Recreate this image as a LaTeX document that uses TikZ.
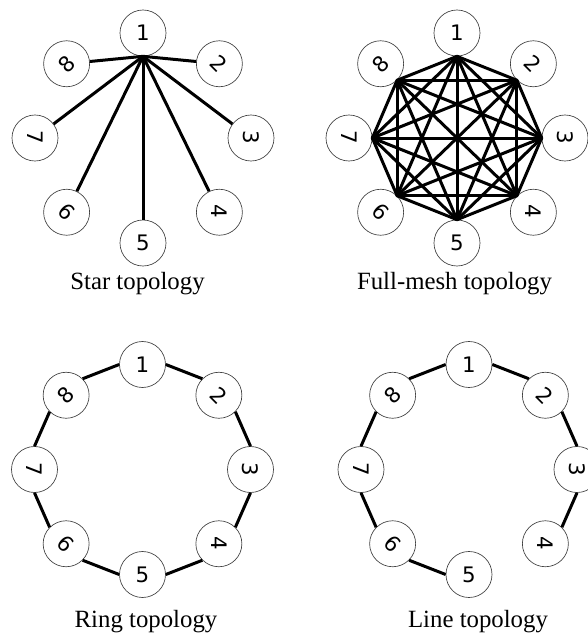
\documentclass[tikz,border=0pt]{standalone}
\usepackage{fontspec}
\usepackage{graphicx}
\setmainfont{Liberation Serif}
\newfontfamily\digitfont{DejaVu Sans}
\newcommand\placering[3]{% prefix, centre x, centre y
  \foreach \k/\r in {1/0,2/-45,3/-90,4/-90,5/0,6/-45,7/-90,8/45}{
    \pgfmathsetmacro\th{90-45*(\k-1)}
    \node[nd] (#1\k) at ({#2+108*cos(\th)},{#3-105*sin(\th)}) {\rotatebox[origin=c]{\r}{\k}};
  }}
\begin{document}
\begin{tikzpicture}[x=0.75pt,y=-0.75pt,
  nd/.style={circle,draw=black!75,line width=0.5pt,minimum size=34.5pt,inner sep=0pt,
    font=\digitfont\fontsize{16}{16}\selectfont},
  edge/.style={line width=2.25pt},
  meshedge/.style={line width=2.25pt,line cap=round},
  captext/.style={font=\fontsize{18.6}{20}\selectfont,anchor=base,inner sep=0pt}]
\useasboundingbox (0,0) rectangle (588,635);

% Star
\placering{s}{143}{138}
\foreach \k in {2,...,8}{\draw[edge] (s1.south) -- (s\k);}
\node[captext] (c1) at (137.5,289) {Star topology};

% Full mesh
\placering{m}{457}{138}
\foreach \i in {1,...,7}{
  \pgfmathtruncatemacro\ai{mod(90-45*(\i-1)+180+720,360)}
  \pgfmathtruncatemacro\ip{\i+1}
  \foreach \j in {\ip,...,8}{
    \pgfmathtruncatemacro\aj{mod(90-45*(\j-1)+180+720,360)}
    \draw[meshedge] (m\i.\ai) -- (m\j.\aj);
  }}
\node[captext] (c2) at (454.5,289) {Full-mesh topology};

% Ring
\placering{r}{142.5}{469.5}
\foreach \i in {1,...,8}{
  \pgfmathtruncatemacro\j{mod(\i,8)+1}
  \pgfmathtruncatemacro\ao{mod(90-45*(\i-1)-90+720,360)}
  \pgfmathtruncatemacro\an{mod(90-45*(\j-1)+90+720,360)}
  \draw[edge] (r\i.\ao) -- (r\j.\an);
}
\node[captext] (c3) at (146,627) {Ring topology};

% Line
\placering{l}{469}{469.5}
\foreach \i in {1,2,3,5,6,7,8}{
  \pgfmathtruncatemacro\j{mod(\i,8)+1}
  \pgfmathtruncatemacro\ao{mod(90-45*(\i-1)-90+720,360)}
  \pgfmathtruncatemacro\an{mod(90-45*(\j-1)+90+720,360)}
  \draw[edge] (l\i.\ao) -- (l\j.\an);
}
\node[captext] (c4) at (478,627) {Line topology};
\end{tikzpicture}
\end{document}
